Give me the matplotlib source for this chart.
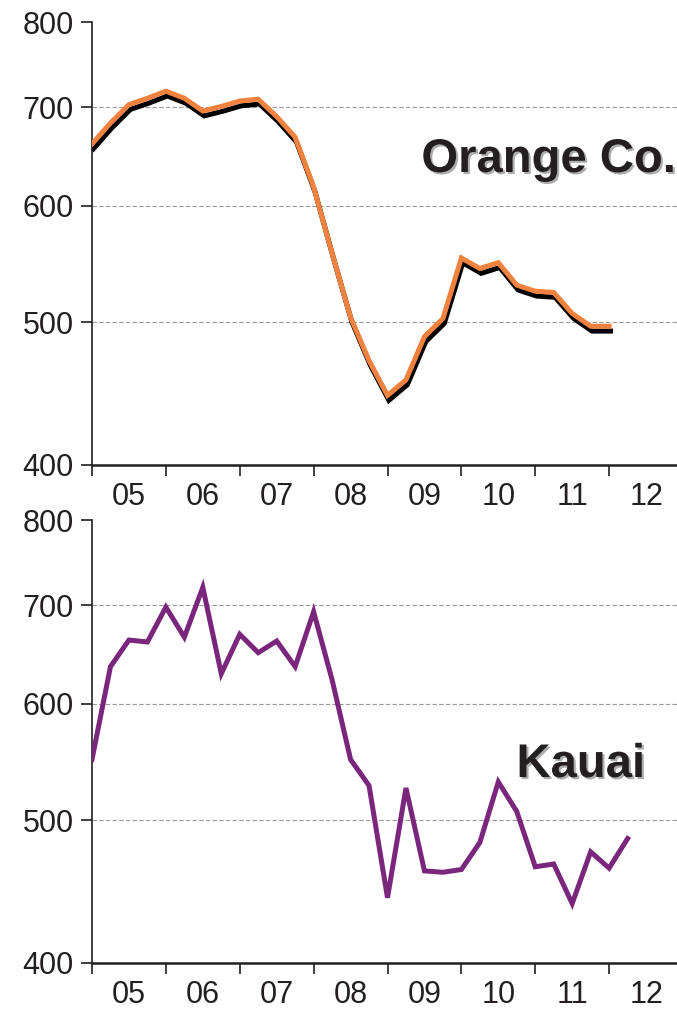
# Deux panneaux : Orange Co. (haut) et Kauai (bas), échelle logarithmique
import matplotlib.pyplot as plt
import matplotlib.patheffects as pe
import matplotlib.ticker as mticker
import numpy as np

plt.rcParams['font.family'] = ['Liberation Sans', 'DejaVu Sans']

# Données trimestrielles (début 2005)
orange_co = [661, 683, 703, 710, 718, 710, 696, 701, 707, 709, 690, 668,
             618, 557, 504, 471, 446, 457, 489, 503, 553, 544, 549, 530,
             525, 524, 507, 497, 497]
kauai = [550, 636, 663, 661, 698, 666, 720, 629, 669, 650, 662, 636,
         693, 623, 550, 528, 443, 526, 462, 461, 463, 483, 531, 507,
         465, 467, 439, 476, 464, 486]
annees = [2005, 2006, 2007, 2008, 2009, 2010, 2011, 2012]
etiquettes_annees = ['05', '06', '07', '08', '09', '10', '11', '12']
graduations_y = [400, 500, 600, 700, 800]

couleur_texte = '#231F20'
W, H = 677, 1009
fig = plt.figure(figsize=(W / 100, H / 100), dpi=100)

ax_haut = fig.add_axes([92 / W, 1 - 465 / H, 591 / W, 443 / H])
ax_bas = fig.add_axes([92 / W, 1 - 963 / H, 591 / W, 443 / H])


def trimestres(valeurs):
    # position de chaque trimestre sur l'axe des années
    return 2005 + np.arange(len(valeurs)) / 4


def mise_en_forme(ax):
    ax.set_yscale('log')
    ax.set_ylim(400, 800)
    ax.set_xlim(2005, 2013)
    ax.yaxis.set_major_locator(mticker.FixedLocator(graduations_y))
    ax.yaxis.set_major_formatter(mticker.FixedFormatter([str(v) for v in graduations_y]))
    ax.yaxis.set_minor_locator(mticker.NullLocator())
    # traits aux débuts d'année, étiquettes au milieu
    ax.xaxis.set_major_locator(mticker.FixedLocator(annees))
    ax.xaxis.set_major_formatter(mticker.NullFormatter())
    ax.xaxis.set_minor_locator(mticker.FixedLocator([a + 0.5 for a in annees]))
    ax.xaxis.set_minor_formatter(mticker.FixedFormatter(etiquettes_annees))
    ax.tick_params(axis='x', which='major', direction='out', length=8, width=1.2, color=couleur_texte)
    ax.tick_params(axis='x', which='minor', length=0, pad=12, labelsize=22, labelcolor=couleur_texte)
    ax.tick_params(axis='y', direction='out', length=8, width=1.2, pad=5,
                   labelsize=22, labelcolor=couleur_texte, color=couleur_texte)
    for v in [500, 600, 700]:
        ax.axhline(v, color='#9a9a9a', linewidth=0.8, linestyle=(0, (4, 2)), zorder=1)
    ax.spines['top'].set_visible(False)
    ax.spines['right'].set_visible(False)
    ax.spines['left'].set_linewidth(1.2)
    ax.spines['bottom'].set_linewidth(1.8)
    ax.spines['left'].set_color(couleur_texte)
    ax.spines['bottom'].set_color(couleur_texte)


mise_en_forme(ax_haut)
mise_en_forme(ax_bas)

# Orange Co. avec ombre noire
ax_haut.plot(trimestres(orange_co), orange_co, color='#F0823F', linewidth=3.6,
             solid_joinstyle='miter', zorder=3,
             path_effects=[pe.SimpleLineShadow(offset=(1, -3.5), shadow_color='black', alpha=1),
                           pe.Normal()])

# Kauai
ax_bas.plot(trimestres(kauai), kauai, color='#7B267D', linewidth=3.6,
            solid_joinstyle='miter', zorder=3)

ombre = [pe.withSimplePatchShadow(offset=(1.5, -1.5), shadow_rgbFace='#999999', alpha=0.8)]
fig.text(676 / W, 1 - 172 / H, 'Orange Co.', fontsize=34, fontweight='bold',
         color=couleur_texte, ha='right', va='baseline', path_effects=ombre)
fig.text(645 / W, 1 - 777 / H, 'Kauai', fontsize=34, fontweight='bold',
         color=couleur_texte, ha='right', va='baseline', path_effects=ombre)

fig.savefig('out.png', dpi=100)
